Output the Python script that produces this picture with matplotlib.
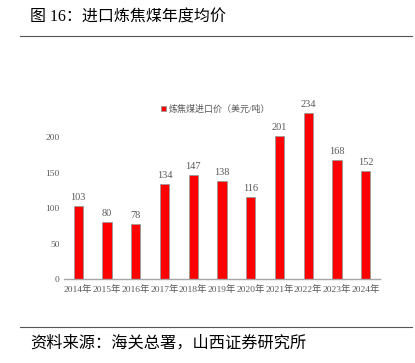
import matplotlib.pyplot as plt
import numpy as np

plt.rcParams['font.family'] = ['Liberation Serif', 'Noto Sans CJK SC']

# === Data ===
years = ['2014年', '2015年', '2016年', '2017年', '2018年', '2019年',
         '2020年', '2021年', '2022年', '2023年', '2024年']
prices = [103, 80, 78, 134, 147, 138, 116, 201, 234, 168, 152]
series_name = '炼焦煤进口价（美元/吨）'
yticks = [0, 50, 100, 150, 200]

grey = '#595959'

fig = plt.figure(figsize=(4.15, 3.63), dpi=100)
ax = fig.add_axes([0.154, 0.231, 0.762, 0.489])

x = np.arange(len(years))
bars = ax.bar(x, prices, width=0.32, color='#ff0000', edgecolor='#9a9a9a',
              linewidth=0.6, label=series_name)

for xi, v in zip(x, prices):
    ax.text(xi, v + 6, str(v), ha='center', va='bottom', fontsize=7.5, color=grey)

ax.set_xlim(-0.5, len(years) - 0.5)
ax.set_ylim(0, 250)
ax.set_yticks(yticks)
ax.set_xticks(x)
ax.set_xticklabels(years)
ax.tick_params(axis='both', length=0, labelsize=6.8, colors=grey, pad=3)
ax.tick_params(axis='x', pad=4)

for s in ['top', 'right', 'left']:
    ax.spines[s].set_visible(False)
ax.spines['bottom'].set_color('#a6a6a6')
ax.spines['bottom'].set_linewidth(1.0)

ax.legend(loc='upper center', bbox_to_anchor=(0.48, 1.03), frameon=False,
          fontsize=6.5, handlelength=0.6, handleheight=0.6, handletextpad=0.3,
          labelcolor=grey)

# header and footer
fig.text(0.072, 0.952, '图 16：进口炼焦煤年度均价', fontsize=11.5, va='center', ha='left')
fig.add_artist(plt.Line2D([0.048, 0.993], [0.901, 0.901], color='#555555', lw=0.8))
fig.add_artist(plt.Line2D([0.048, 0.993], [0.100, 0.100], color='#555555', lw=0.8))
fig.text(0.072, 0.053, '资料来源：海关总署，山西证券研究所', fontsize=11.7, va='center', ha='left')

fig.savefig('out.png', dpi=100)
